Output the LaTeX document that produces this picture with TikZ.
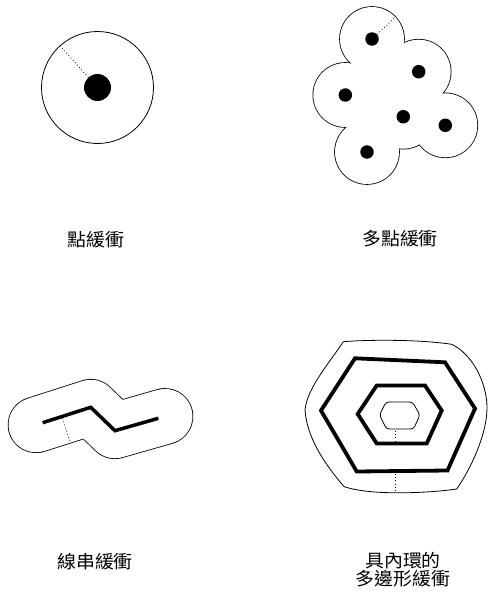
\documentclass[tikz,border=0pt]{standalone}
\usepackage{fontspec}
\newfontfamily\cjk[FakeStretch=1.05]{Noto Sans CJK TC}
\begin{document}
\begin{tikzpicture}[x=1pt,y=-1pt,
  outline/.style={draw=black,line width=0.8pt},
  dotline/.style={line width=0.8pt,dash pattern=on 0.8pt off 2.4pt},
  dot/.style={circle,fill=black,draw=none,inner sep=0pt,minimum size=#1},
  lbl/.style={font=\cjk\fontsize{18}{17.5}\selectfont,align=center,inner sep=0pt},
  thickring/.style={draw=black,line width=3.8pt,line join=miter}]
\useasboundingbox[fill=white] (0,0) rectangle (488,594);

% ---------- point buffer ----------
\coordinate (pc) at (97.5,87.5);
\node[outline,circle,inner sep=0pt,minimum size=112pt] (pbuf) at (pc) {};
\node[dot=27pt] (pdot) at (pc) {};
\draw[dotline] (pdot.132.5) -- (pbuf.132.5);
\node[lbl] (t1) at (96,240) {點緩衝};

% ---------- multipoint buffer ----------
\coordinate (m1) at (372,39);
\coordinate (m2) at (418.7,71.7);
\coordinate (m3) at (345.3,95);
\coordinate (m4) at (403.3,116.7);
\coordinate (m5) at (445.3,125.3);
\coordinate (m6) at (367,152);
\foreach \p in {m1,m2,m3,m4,m5,m6}
  \draw[line width=1.6pt] (\p) circle[radius=32];
\foreach \p in {m1,m2,m3,m4,m5,m6}
  \fill[white] (\p) circle[radius=32];
\fill[white] (m1) -- (m2) -- (m5) -- (m6) -- (m3) -- cycle;
\foreach \p/\n in {m1/d1,m2/d2,m3/d3,m4/d4,m5/d5,m6/d6}
  \node[dot=13.5pt] (\n) at (\p) {};
\coordinate (m1e) at (395.3,17.0);
\draw[dotline] (d1.43.3) -- (m1e);
\node[lbl] (t2) at (400,238.5) {多點緩衝};

% ---------- line buffer ----------
\coordinate (l1) at (42.7,422.7);
\coordinate (l2) at (90.7,407.3);
\coordinate (l3) at (115,430.7);
\coordinate (l4) at (158.3,418.3);
\coordinate (lb1) at (36.0,424.8);
\coordinate (lb4) at (165.0,416.4);
\draw[line width=56.6pt,line join=round,line cap=round] (lb1) -- (l2) -- (l3) -- (lb4);
\draw[white,line width=55pt,line join=round,line cap=round] (lb1) -- (l2) -- (l3) -- (lb4);
\draw[line width=3.5pt,line join=miter] (l1) -- (l2) -- (l3) -- (l4);
\coordinate (la) at (62.5,418.5);
\coordinate (lb) at (70.3,442.7);
\draw[dotline] (la) -- (lb);
\node[lbl] (t3) at (95,562) {線串緩衝};

% ---------- polygon with inner ring ----------
\draw[outline] (343.3,341.7) .. controls (370,339.5) and (420,339.5) .. (451.7,344.3)
  .. controls (472,354) and (487,382) .. (487,408)
  .. controls (487,435) and (470,470) .. (456.7,489)
  .. controls (430,493) and (370,496) .. (344,486.5)
  .. controls (328,468) and (307,440) .. (305,410)
  .. controls (307,388) and (330,362) .. cycle;
\coordinate (o1) at (355,358.3);
\coordinate (o2) at (445,362.3);
\coordinate (o3) at (475,408.5);
\coordinate (o4) at (447.5,470.5);
\coordinate (o5) at (356.7,471.5);
\coordinate (o6) at (321,410.5);
\draw[thickring] (o1) -- (o2) -- (o3) -- (o4) -- (o5) -- (o6) -- cycle;
\coordinate (i1) at (376.7,385.5);
\coordinate (i2) at (425,385.5);
\coordinate (i3) at (441.7,410.5);
\coordinate (i4) at (426.7,443.5);
\coordinate (i5) at (376.7,443.5);
\coordinate (i6) at (357.7,414);
\draw[thickring] (i1) -- (i2) -- (i3) -- (i4) -- (i5) -- (i6) -- cycle;
\coordinate (h1) at (386,402);
\coordinate (h2) at (412.5,402);
\coordinate (h3) at (420,415);
\coordinate (h4) at (413.5,429);
\coordinate (h5) at (386.5,429);
\coordinate (h6) at (379.5,415);
\draw[outline,rounded corners=3pt] (h1) -- (h2) -- (h3) -- (h4) -- (h5) -- (h6) -- cycle;
\coordinate (q1) at (395,431);
\coordinate (q2) at (395,442);
\coordinate (q3) at (395,474);
\coordinate (q4) at (395,491);
\draw[dotline] (q1) -- (q2);
\draw[dotline] (q3) -- (q4);
\node[lbl] (t4) at (403,569.5) {具內環的\\多邊形緩衝};
\end{tikzpicture}
\end{document}
